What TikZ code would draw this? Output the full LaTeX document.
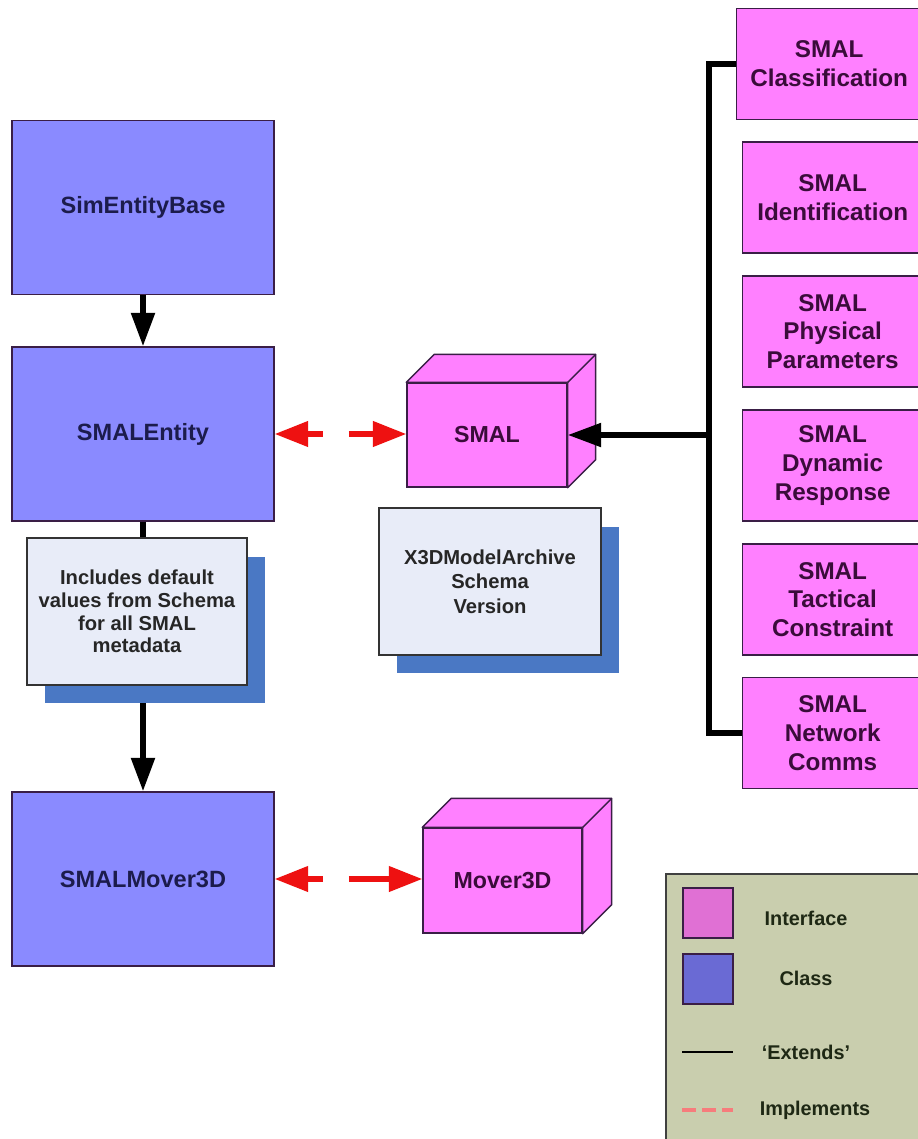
\documentclass[tikz,border=0pt]{standalone}
\usepackage{fontspec}
\setmainfont{Liberation Sans}
\usepackage{tikz}
\usetikzlibrary{arrows.meta}
\usetikzlibrary{shadows}
\definecolor{classblue}{HTML}{8A8AFF}
\definecolor{ifacepink}{HTML}{FF80FF}
\definecolor{noteblue}{HTML}{E8ECF8}
\definecolor{shadowblue}{HTML}{4A78C4}
\definecolor{legendgreen}{HTML}{C9CEAE}
\definecolor{legendpink}{HTML}{E070D4}
\definecolor{legendblue}{HTML}{6A6AD4}
\definecolor{edgepurple}{HTML}{3A1E46}
\definecolor{classtext}{HTML}{1C1C4C}
\definecolor{ifacetext}{HTML}{3A0C3A}
\definecolor{legendtext}{HTML}{1E2814}
\definecolor{implred}{HTML}{EE1111}
\tikzstyle{class} = [rectangle, draw=edgepurple, line width=0.8pt, fill=classblue, text=classtext, minimum width=5.24cm, minimum height=3.48cm, font=\fontsize{13.4}{16}\selectfont\bfseries]
\tikzstyle{iface} = [rectangle, draw=edgepurple, line width=0.8pt, fill=ifacepink, text=ifacetext, anchor=west, minimum width=3.6cm, minimum height=2.22cm, align=center, font=\fontsize{13.8}{16.4}\selectfont\bfseries]
\tikzstyle{cube} = [rectangle, draw=edgepurple, line width=0.8pt, fill=ifacepink, text=ifacetext, font=\fontsize{13.2}{16}\selectfont\bfseries]
\tikzstyle{cubeface} = [draw=edgepurple, line width=0.8pt, fill=ifacepink, line join=round]
\tikzstyle{note} = [rectangle, draw=black!80, line width=0.8pt, fill=noteblue, text=black!85, minimum height=2.94cm, align=center, drop shadow={shadow xshift=0.36cm, shadow yshift=-0.37cm, fill=shadowblue, opacity=1}]
\tikzstyle{extends} = [line width=3.2pt, -{Triangle[length=19pt,width=13pt]}]
\tikzstyle{trunk} = [line width=3.2pt]
\tikzstyle{implements} = [implred, line width=3pt, {Triangle[length=19pt,width=14pt]}-{Triangle[length=19pt,width=14pt]}, dash pattern=on 9pt off 15pt on 300pt]
\tikzstyle{swatch} = [rectangle, draw=edgepurple, line width=0.8pt, minimum size=1cm]
\tikzstyle{legendlabel} = [text=legendtext, font=\fontsize{11.3}{13}\selectfont\bfseries]

\begin{document}
\begin{tikzpicture}[x=0.02cm, y=-0.02cm]
	\useasboundingbox (0,0) rectangle (917,1139);
	\fill[white] (0,0) rectangle (917,1139);
	\node[class] (base) at (143,207.5) {SimEntityBase};
	\node[class] (ent) at (143,434) {SMALEntity};
	\node[class] (mover) at (143,879) {SMALMover3D};
	\draw[extends] (base) -- (ent);
	\draw[extends] (ent) -- (mover);
	\node[note, minimum width=4.4cm, font=\fontsize{11.5}{13}\selectfont\bfseries] (defaults) at (137,611.5) {Includes default\\values from Schema\\for all SMAL\\metadata};
	\node[note, minimum width=4.44cm, font=\fontsize{11.5}{13.9}\selectfont\bfseries] (schema) at (490,581.5) {X3DModelArchive\\Schema\\Version};
	\node[cube, minimum width=3.2cm, minimum height=2.08cm] (smal) at (487,435) {SMAL};
	\filldraw[cubeface] (smal.north west) -- ++(28,-28) -- ([shift={(28,-28)}]smal.north east) -- ([shift={(28,-28)}]smal.south east) -- (smal.south east) -- (smal.north east) -- cycle;
	\draw[cubeface] (smal.north east) -- ++(28,-28);
	\node[cube, minimum width=3.18cm, minimum height=2.1cm] (mov3d) at (502.5,880.5) {Mover3D};
	\filldraw[cubeface] (mov3d.north west) -- ++(29,-29) -- ([shift={(29,-29)}]mov3d.north east) -- ([shift={(29,-29)}]mov3d.south east) -- (mov3d.south east) -- (mov3d.north east) -- cycle;
	\draw[cubeface] (mov3d.north east) -- ++(29,-29);
	\draw[implements] (ent.east) -- (ent.east -| smal.west);
	\draw[implements] (mover.east) -- (mover.east -| mov3d.west);
	\node[iface, minimum width=3.7cm] (cls) at (736,64) {SMAL\\Classification};
	\node[iface] (ident) at (742,197.5) {SMAL\\Identification};
	\node[iface] (phys) at (742,331.5) {SMAL\\Physical\\Parameters};
	\node[iface] (dyn) at (742,465.5) {SMAL\\Dynamic\\Response};
	\node[iface] (tact) at (742,599.5) {SMAL\\Tactical\\Constraint};
	\node[iface] (net) at (742,733) {SMAL\\Network\\Comms};
	\coordinate (fork) at (709,435);
	\draw[trunk] (cls.west) -| (fork) |- (net.west);
	\draw[extends] (fork) -- (smal.east);
	\draw[draw=black!75, line width=0.8pt, fill=legendgreen] (666,874) rectangle (930,1150);
	\node[swatch, fill=legendpink] (ifaceswatch) at (708,913) {};
	\node[legendlabel] (ifacelabel) at (806,918) {Interface};
	\node[swatch, fill=legendblue] (classswatch) at (708,979) {};
	\node[legendlabel] (classlabel) at (806,978) {Class};
	\draw[line width=1.6pt] (682,1052) -- (733,1052);
	\node[legendlabel] (extlabel) at (806,1052) {‘Extends’};
	\draw[implred!55, line width=1.8pt, dash pattern=on 8pt off 3.5pt] (682,1110) -- (733,1110);
	\node[legendlabel] (impllabel) at (815,1110) {Implements};
\end{tikzpicture}
\end{document}
